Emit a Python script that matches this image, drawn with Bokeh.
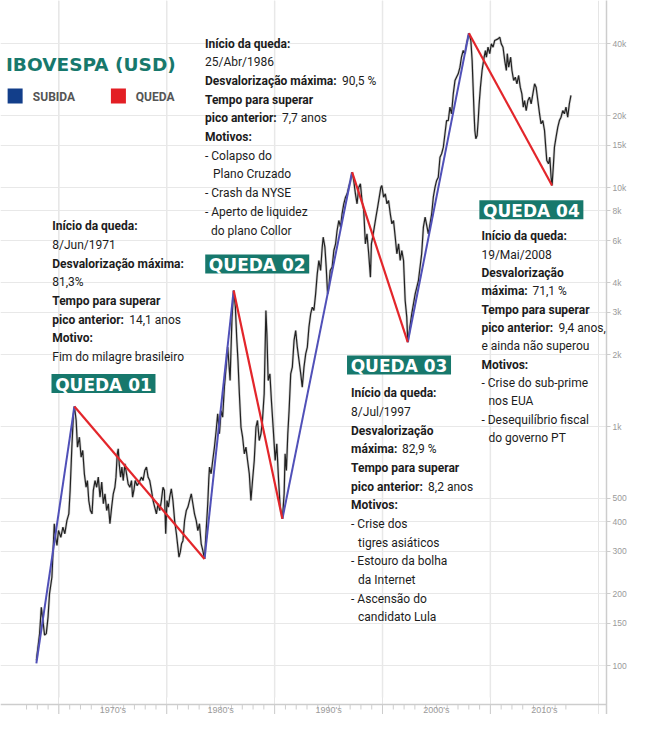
from bokeh.plotting import figure
from bokeh.models import Range1d, FixedTicker, Span
from bokeh.core.properties import value
from bokeh.embed import file_html
from bokeh.resources import INLINE

# ---------------- DATA ----------------
# IBOVESPA in USD (points)
years_1968_1984 = [1967.91, 1968.21, 1968.37, 1968.52, 1968.67, 1968.83, 1968.99, 1969.13, 1969.35, 1969.57,
                   1969.69, 1969.82, 1969.96, 1970.18, 1970.37, 1970.55, 1970.74, 1970.92, 1971.04, 1971.2,
                   1971.35, 1971.44, 1971.6, 1971.72, 1971.9, 1972.06, 1972.21, 1972.36, 1972.52, 1972.64,
                   1972.77, 1972.92, 1973.07, 1973.19, 1973.35, 1973.5, 1973.65, 1973.81, 1973.97, 1974.12,
                   1974.27, 1974.43, 1974.58, 1974.73, 1974.89, 1975.04, 1975.19, 1975.29, 1975.41, 1975.5,
                   1975.59, 1975.72, 1975.84, 1975.96, 1976.12, 1976.27, 1976.42, 1976.58, 1976.73, 1976.83,
                   1976.95, 1977.07, 1977.25, 1977.44, 1977.66, 1977.8, 1977.96, 1978.12, 1978.27, 1978.42,
                   1978.58, 1978.73, 1978.88, 1979.04, 1979.19, 1979.35, 1979.5, 1979.65, 1979.78, 1979.9,
                   1980.02, 1980.15, 1980.27, 1980.42, 1980.57, 1980.73, 1980.89, 1981.03, 1981.13, 1981.25,
                   1981.37, 1981.5, 1981.65, 1981.81, 1981.96, 1982.11, 1982.27, 1982.42, 1982.57, 1982.73,
                   1982.88, 1983.03, 1983.19, 1983.34, 1983.5, 1983.65, 1983.8, 1983.89, 1983.96, 1984.11,
                   1984.26, 1984.42, 1984.58, 1984.72]
values_1968_1984 = [105, 136, 175, 154, 134, 136, 159, 200, 234, 392,
                    344, 318, 367, 344, 379, 356, 404, 431, 540, 820,
                    1130, 1213, 1060, 820, 902, 744, 794, 634, 557, 594,
                    490, 445, 431, 540, 594, 557, 614, 506, 585, 475,
                    523, 445, 475, 392, 460, 523, 557, 614, 769, 807,
                    698, 614, 676, 594, 698, 634, 575, 557, 594, 506,
                    540, 594, 566, 585, 614, 594, 654, 676, 614, 594,
                    540, 490, 460, 431, 475, 445, 490, 557, 540, 356,
                    490, 460, 506, 549, 490, 404, 356, 313, 284, 298,
                    323, 333, 404, 445, 460, 490, 523, 475, 431, 404,
                    367, 392, 323, 303, 279, 367, 475, 594, 676, 634,
                    721, 820, 962, 1130]

years_1985_2002 = [1984.88, 1985.04, 1985.18, 1985.34, 1985.5, 1985.65, 1985.74, 1985.87, 1985.96, 1986.05,
                   1986.2, 1986.36, 1986.48, 1986.6, 1986.73, 1986.88, 1987.03, 1987.19, 1987.34, 1987.49,
                   1987.65, 1987.8, 1987.95, 1988.11, 1988.27, 1988.41, 1988.57, 1988.73, 1988.87, 1989.03,
                   1989.19, 1989.28, 1989.4, 1989.56, 1989.7, 1989.86, 1990.05, 1990.2, 1990.35, 1990.51,
                   1990.72, 1990.88, 1990.97, 1991.09, 1991.22, 1991.34, 1991.49, 1991.64, 1991.8, 1991.95,
                   1992.1, 1992.26, 1992.42, 1992.56, 1992.72, 1992.88, 1993.03, 1993.18, 1993.34, 1993.49,
                   1993.64, 1993.8, 1993.95, 1994.1, 1994.26, 1994.41, 1994.5, 1994.66, 1994.78, 1994.91,
                   1995.03, 1995.15, 1995.33, 1995.49, 1995.65, 1995.79, 1995.95, 1996.11, 1996.25, 1996.41,
                   1996.57, 1996.72, 1996.87, 1997.03, 1997.18, 1997.33, 1997.49, 1997.64, 1997.8, 1997.95,
                   1998.1, 1998.26, 1998.41, 1998.56, 1998.72, 1998.88, 1998.97, 1999.09, 1999.24, 1999.39,
                   1999.55, 1999.7, 1999.85, 1999.94, 2000.1, 2000.26, 2000.41, 2000.56, 2000.72, 2000.87,
                   2001.02, 2001.18, 2001.33, 2001.49, 2001.64, 2001.79, 2001.95, 2002.1, 2002.25, 2002.34]
values_1985_2002 = [932, 1166, 1094, 1461, 1771, 2147, 1889, 1558, 2147, 2868,
                    3707, 3156, 2364, 1889, 1370, 993, 902, 769, 820, 721,
                    634, 490, 594, 721, 993, 1060, 874, 932, 1060, 1370,
                    3057, 2442, 1558, 1661, 1285, 993, 721, 846, 614, 460,
                    411, 523, 769, 654, 932, 1166, 1661, 1771, 2291, 2522,
                    2147, 1889, 1661, 1461, 1771, 2014, 2147, 2604, 2961, 3156,
                    3057, 3590, 4353, 4950, 4496, 5625, 6196, 5625, 4642, 3590,
                    3828, 4496, 4642, 5450, 5812, 6607, 7278, 6823, 7762, 8548,
                    9108, 9410, 10030, 10700, 11590, 10700, 9410, 8548, 10030, 10360,
                    8824, 8013, 5812, 6400, 5280, 4214, 5812, 6196, 6823, 7511,
                    8274, 9108, 10030, 10195, 9108, 9410, 8548, 8824, 7762, 7047,
                    7278, 6196, 5280, 5812, 4950, 5450, 4950, 3366, 2868, 2253]

years_2003_2017 = [2002.71, 2003.03, 2003.33, 2003.63, 2003.79, 2003.95, 2004.25, 2004.56, 2004.71, 2004.87,
                   2005.02, 2005.17, 2005.33, 2005.48, 2005.64, 2005.79, 2005.94, 2006.1, 2006.25, 2006.4,
                   2006.56, 2006.72, 2006.86, 2007.02, 2007.18, 2007.32, 2007.48, 2007.64, 2007.79, 2008.01,
                   2008.19, 2008.31, 2008.4, 2008.49, 2008.56, 2008.65, 2008.77, 2008.87, 2008.96, 2009.08,
                   2009.23, 2009.42, 2009.54, 2009.63, 2009.78, 2009.94, 2010.09, 2010.25, 2010.4, 2010.71,
                   2010.87, 2011.01, 2011.17, 2011.33, 2011.48, 2011.57, 2011.7, 2011.88, 2012.0, 2012.16,
                   2012.31, 2012.46, 2012.62, 2012.77, 2012.92, 2013.05, 2013.17, 2013.32, 2013.48, 2013.63,
                   2013.78, 2013.94, 2014.1, 2014.24, 2014.4, 2014.56, 2014.7, 2014.86, 2015.02, 2015.11,
                   2015.23, 2015.39, 2015.51, 2015.63, 2015.72, 2015.85, 2015.94, 2016.09, 2016.25, 2016.4,
                   2016.55, 2016.71, 2016.86, 2017.01, 2017.17, 2017.32, 2017.47]
values_2003_2017 = [2961, 3590, 4080, 5280, 6823, 7511, 6400, 7762, 9108, 10030,
                    10700, 11040, 13390, 13840, 14750, 16780, 19060, 19060, 21680, 20340,
                    24660, 28040, 28940, 29900, 31870, 35090, 37430, 36300, 39900, 44230,
                    41220, 33980, 26290, 20340, 17320, 15990, 16510, 19060, 22390, 26290,
                    30870, 35090, 37430, 35090, 38650, 36300, 39900, 38650, 41220, 41880,
                    42560, 39900, 38650, 33980, 30870, 36300, 31870, 35090, 30870, 28040,
                    28940, 27160, 29420, 26290, 24660, 21680, 23120, 20990, 23120, 23870,
                    22390, 24660, 27160, 26290, 23120, 20340, 18470, 19060, 17320, 15230,
                    12970, 12560, 13390, 11040, 10195, 12560, 14750, 16240, 17880, 19060,
                    19680, 20990, 20340, 21680, 19680, 22390, 24270]

# turning points (troughs and peaks) joined by the SUBIDA / QUEDA lines
turn_years = [1967.91, 1971.44, 1983.5, 1986.2, 1990.72, 1997.18, 2002.34, 2008.01, 2015.72]
turn_values = [102, 1213, 279, 3707, 411, 11590, 2253, 44230, 10195]

y_ticks = [100, 150, 200, 300, 400, 500, 1000, 2000, 3000, 4000, 6000, 8000, 10000, 15000, 20000, 40000]
y_tick_labels = ["100", "150", "200", "300", "400", "500", "1k", "2k", "3k", "4k", "6k", "8k",
                 "10k", "15k", "20k", "40k"]
decades = [1970, 1980, 1990, 2000, 2010]
decade_labels = ["1970's", "1980's", "1990's", "2000's", "2010's"]
minor_years = [y for y in range(1967, 2018) if y % 10 != 0]

title_text = "IBOVESPA (USD)"
legend_labels = ["SUBIDA", "QUEDA"]
queda_labels = ["QUEDA 01", "QUEDA 02", "QUEDA 03", "QUEDA 04"]

info_01 = [("Início da queda:", "", 0), ("", "8/Jun/1971", 0), ("Desvalorização máxima:", "", 0),
           ("", "81,3%", 0), ("Tempo para superar", "", 0), ("pico anterior:", "14,1 anos", 0),
           ("Motivo:", "", 0), ("", "Fim do milagre brasileiro", 0)]
info_02 = [("Início da queda:", "", 0), ("", "25/Abr/1986", 0), ("Desvalorização máxima:", "90,5 %", 0),
           ("Tempo para superar", "", 0), ("pico anterior:", "7,7 anos", 0), ("Motivos:", "", 0),
           ("", "- Colapso do", 0), ("", "Plano Cruzado", 8), ("", "- Crash da NYSE", 0),
           ("", "- Aperto de liquidez", 0), ("", "do plano Collor", 6)]
info_03 = [("Início da queda:", "", 0), ("", "8/Jul/1997", 0), ("Desvalorização", "", 0),
           ("máxima:", "82,9 %", 0), ("Tempo para superar", "", 0), ("pico anterior:", "8,2 anos", 0),
           ("Motivos:", "", 0), ("", "- Crise dos", 0), ("", "tigres asiáticos", 7),
           ("", "- Estouro da bolha", 0), ("", "da Internet", 7), ("", "- Ascensão do", 0),
           ("", "candidato Lula", 7)]
info_04 = [("Início da queda:", "", 0), ("", "19/Mai/2008", 0), ("Desvalorização", "", 0),
           ("máxima:", "71,1 %", 0), ("Tempo para superar", "", 0), ("pico anterior:", "9,4 anos,", 0),
           ("", "e ainda não superou", 0), ("Motivos:", "", 0), ("", "- Crise do sub-prime", 0),
           ("", "nos EUA", 7), ("", "- Desequilíbrio fiscal", 0), ("", "do governo PT", 7)]

# ---------------- LAYOUT HELPERS (picture pixels -> data space) ----------------
PX_1970, PX_PER_YEAR = 58.7, 10.84
PY_100, PX_PER_DECADE = 665.0, 239.0


def X(px):
    return 1970 + (px - PX_1970) / PX_PER_YEAR


def Y(py):
    return 10 ** (2 + (PY_100 - py) / PX_PER_DECADE)


TEAL = "#17786c"
BLUE_LINE = "#5050b8"
RED_LINE = "#e3262b"
TXT = "#1c1c1c"
GRID = "#e8e8e8"
AXIS = "#cdcdcd"
LABEL = "#9a9a9a"
BODY = value("Roboto")

W, H, RIGHT = 629, 714, 609
p = figure(width=W, height=H,
           x_range=Range1d(X(0), X(RIGHT)), y_range=Range1d(Y(H), Y(0)),
           y_axis_type="log", y_axis_location="right", x_axis_location=None,
           toolbar_location=None, output_backend="svg",
           min_border_left=0, min_border_right=W - RIGHT, min_border_top=0, min_border_bottom=0)
p.outline_line_color = None
p.background_fill_color = "white"
p.border_fill_color = "white"

yax = p.yaxis[0]
yax.ticker = FixedTicker(ticks=y_ticks)
yax.major_label_overrides = {t: l for t, l in zip(y_ticks, y_tick_labels)}
yax.axis_line_color = AXIS
yax.axis_line_width = 1.5
yax.major_tick_out = 4
yax.major_tick_in = 0
yax.major_tick_line_color = AXIS
yax.minor_tick_line_color = None
yax.major_label_standoff = 2
yax.major_label_text_font = "Liberation Sans"
yax.major_label_text_font_size = "8.5px"
yax.major_label_text_color = LABEL
p.ygrid.grid_line_color = GRID
p.ygrid.grid_line_width = 1

# vertical decade grid lines
p.segment(x0=decades, y0=Y(697), x1=decades, y1=Y(0), line_color=GRID, line_width=1.5)

# bottom time axis
p.add_layout(Span(location=Y(704), dimension="width", line_color=AXIS, line_width=1.5))
p.segment(x0=decades, y0=Y(704), x1=decades, y1=Y(H), line_color=AXIS, line_width=1)
p.segment(x0=minor_years, y0=Y(704), x1=minor_years, y1=Y(709), line_color=AXIS, line_width=1)
p.text(x=[d + 5 for d in decades], y=Y(709.5), text=decade_labels, text_font=value("Liberation Sans"),
       text_font_size="9px", text_color=LABEL, text_align="center", text_baseline="middle")

# index line
all_years = years_1968_1984 + years_1985_2002 + years_2003_2017
all_values = values_1968_1984 + values_1985_2002 + values_2003_2017
p.line(all_years, all_values, line_color="#9a9a9a", line_width=2.6, line_alpha=0.45)
p.line(all_years, all_values, line_color="#222222", line_width=1.2)

# rises and falls
p.segment(x0=turn_years[0:8:2], y0=turn_values[0:8:2], x1=turn_years[1:8:2], y1=turn_values[1:8:2],
          line_color=BLUE_LINE, line_width=2)
p.segment(x0=turn_years[1::2], y0=turn_values[1::2], x1=turn_years[2::2], y1=turn_values[2::2],
          line_color=RED_LINE, line_width=2.2)

# title and legend
p.text(x=[X(5.5)], y=[Y(63.5)], text=[title_text], text_font=value("DejaVu Sans"), text_font_style="bold",
       text_font_size="18.5px", text_color=TEAL, text_baseline="middle")
p.rect(x=[X(14.7), X(118.5)], y=[Y(95.5), Y(95.5)], width=15, height=15, width_units="screen",
       height_units="screen", fill_color=["#123e8a", "#e31e24"], line_color=None)
p.text(x=[X(32.5), X(136)], y=[Y(96.5), Y(96.5)], text=legend_labels, text_font=BODY,
       text_font_style="bold", text_font_size="12px", text_color="#555555", text_baseline="middle")

# QUEDA tags
tag_cx = [X(103.5), X(258), X(400.5), X(533.5)]
tag_cy = [Y(383), Y(263.5), Y(364.5), Y(209.3)]
p.rect(x=tag_cx, y=tag_cy, width=104, height=19, width_units="screen", height_units="screen",
       fill_color=TEAL, line_color=None)
p.text(x=tag_cx, y=tag_cy, text=queda_labels, text_font=value("DejaVu Sans"), text_font_style="bold",
       text_font_size="17px", text_color="white", text_align="center", text_baseline="middle",
       y_offset=1)

# info blocks
GAP = {"pico anterior:": 77, "Desvalorização máxima:": 137, "máxima:": 51}
blocks = [(52, 225.7, 18.7, info_01), (205.5, 43.3, 18.67, info_02),
          (352.3, 392.7, 18.67, info_03), (483.3, 235.7, 18.33, info_04)]
bx, by, bt, rx, ry, rt, ro = [], [], [], [], [], [], []
for left, top, step, lines in blocks:
    for i, (b, r, ind) in enumerate(lines):
        xx, yy = X(left), Y(top + i * step)
        if b:
            bx.append(xx); by.append(yy); bt.append(b)
        if r:
            rx.append(xx); ry.append(yy); rt.append(r)
            ro.append(GAP[b] if b else ind)
p.text(x=bx, y=by, text=bt, text_font=BODY, text_font_style="bold", text_font_size="12px",
       text_color=TXT, text_baseline="middle")
p.text(x=rx, y=ry, text=rt, x_offset=ro, text_font=BODY, text_font_size="12px",
       text_color=TXT, text_baseline="middle")

open("out.html", "w").write(file_html(p, INLINE))
